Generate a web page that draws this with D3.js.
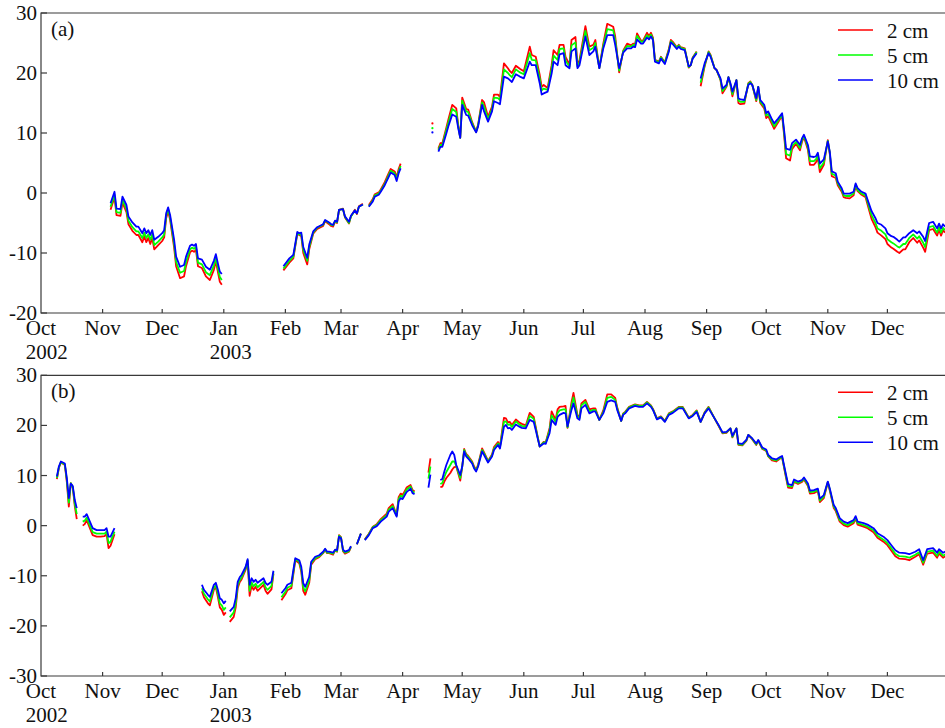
<!DOCTYPE html>
<html>
<head>
<meta charset="utf-8">
<script src="https://cdn.jsdelivr.net/npm/d3@7"></script>
<style>
  body { margin: 0; background: #fff; }
  svg { display: block; }
  .frame { fill: none; stroke: #3a3a3a; stroke-width: 1.2; }
  .tick { stroke: #3a3a3a; stroke-width: 1.2; }
  .series { fill: none; stroke-width: 1.8; stroke-linejoin: round; }
</style>
</head>
<body>
<svg class="chart" width="945" height="728"></svg>
<script>
// days counted from 1 Oct 2002; a null value marks a break in the record

// (a) station one
const dayA = [
  35,37,38,40,41,43,44,46,48,49,51,52,53,54,55,56,57,59,61,62,63,64,65,67,68,70,72,73,75,76,77,78,79,81,83,85,87,88,89,90,91,
  100,
  122,125,127,129,130,131,132,134,135,137,139,142,143,145,146,147,148,149,150,152,153,155,156,158,159,160,162,
  163,
  165,167,168,170,171,173,175,176,178,179,180,181,
  189,
  197,
  198,
  200,201,202,204,205,207,209,210,211,212,214,215,217,219,220,222,223,225,227,228,230,231,233,235,236,237,239,241,243,246,
  247,249,251,252,253,255,257,258,260,261,263,264,266,267,269,270,271,274,276,278,279,281,283,285,288,289,291,293,295,297,
  298,299,300,302,303,305,306,307,308,309,311,312,314,316,317,318,320,321,322,324,326,327,328,330,
  331,
  332,334,336,337,339,340,342,343,345,346,347,348,350,351,352,354,356,357,358,360,361,362,364,365,366,368,369,371,373,374,
  375,377,378,380,382,383,384,386,387,389,390,391,392,394,396,397,398,400,401,403,404,405,407,409,410,411,413,415,416,418,
  420,421,423,425,426,428,429,431,432,434,435,437,439,441,442,444,445,447,449,451,452,453,454,455
];
const a2cm = [
  -2.8,-0.7,-3.7,-3.8,-1.6,-3.2,-5.2,-6.3,-7.0,-7.0,-8.2,-7.2,-8.2,-7.5,-8.5,-7.5,-9.4,-8.7,-8.0,-7.4,-4.2,-3.0,-4.5,-9.1,-12.2,-14.2,-13.9,-12.2,-9.9,-9.6,-9.8,-9.5,-12.2,-12.5,-13.9,-14.5,-12.8,-11.4,-13.1,-14.8,-15.3,
  null,
  -12.9,-11.6,-10.9,-6.8,-7.0,-7.2,-10.0,-11.9,-9.4,-6.8,-6.0,-5.5,-4.7,-5.2,-5.5,-5.6,-4.8,-5.0,-2.8,-2.6,-4.1,-5.1,-3.9,-2.8,-3.5,-2.2,-1.8,
  null,
  -2.0,-1.0,-0.2,0.1,0.6,1.8,3.3,4.0,3.6,2.6,4.0,4.9,
  null,
  11.6,
  null,
  7.4,8.3,8.3,10.9,12.2,14.7,14.1,11.3,9.2,15.9,14.0,13.9,11.8,10.2,11.4,15.5,15.1,12.7,14.4,16.4,16.4,16.0,21.6,20.8,20.3,20.0,21.2,20.7,20.3,24.4,
  23.0,22.7,19.7,17.7,18.0,17.5,21.3,23.8,23.0,24.7,24.7,22.7,21.4,25.5,26.0,21.4,22.1,27.8,24.4,24.7,25.5,20.8,24.9,28.2,27.7,26.1,20.1,23.7,24.9,24.6,
  24.9,24.8,26.6,25.4,25.4,26.7,26.1,26.7,25.9,22.2,21.9,22.7,21.8,24.0,25.5,25.2,24.3,24.7,24.3,24.1,20.9,21.3,22.6,23.6,
  null,
  17.8,21.1,23.6,23.0,20.8,20.5,18.8,16.6,17.7,19.3,18.0,16.1,18.8,15.0,14.8,14.9,18.3,18.6,18.0,15.3,17.7,15.0,14.1,12.5,12.8,11.4,10.7,11.8,12.9,9.7,
  5.8,5.4,7.3,8.2,7.1,8.5,9.3,7.2,4.7,4.7,5.1,5.8,3.5,4.7,8.8,6.5,2.8,2.5,1.3,0.2,-0.7,-0.8,-0.9,-0.4,1.2,0.3,-0.3,-0.7,-1.9,-4.3,
  -5.7,-6.6,-7.1,-7.7,-8.5,-9.1,-9.3,-9.8,-10.0,-9.4,-9.4,-8.2,-7.5,-8.3,-7.9,-9.1,-9.8,-6.2,-6.0,-7.1,-6.1,-7.1,-6.2,-6.6
];
const a5cm = [
  -2.3,-0.3,-3.2,-3.3,-1.1,-2.7,-4.6,-5.7,-6.4,-6.4,-7.5,-6.6,-7.5,-6.9,-7.8,-6.9,-8.7,-8.1,-7.4,-6.9,-3.8,-2.7,-4.1,-8.5,-11.5,-13.3,-13.0,-11.5,-9.4,-9.1,-9.3,-9.0,-11.6,-11.9,-13.2,-13.7,-12.1,-10.9,-12.5,-14.0,-14.5,
  null,
  -12.6,-11.3,-10.6,-6.7,-6.9,-6.9,-9.5,-11.3,-9.0,-6.6,-5.8,-5.3,-4.6,-5.0,-5.3,-5.4,-4.7,-4.9,-2.8,-2.7,-4.0,-5.0,-3.9,-2.9,-3.4,-2.3,-1.9,
  null,
  -2.2,-1.2,-0.4,-0.1,0.4,1.5,3.0,3.7,3.3,2.3,3.6,4.5,
  null,
  10.8,
  null,
  7.2,8.0,8.0,10.5,11.7,14.0,13.5,11.1,9.2,15.4,13.6,13.5,11.6,10.2,11.3,15.1,14.4,12.3,14.0,15.9,15.8,15.5,20.6,20.0,19.6,19.3,20.6,20.1,19.8,23.3,
  22.2,22.1,19.1,17.1,17.4,17.2,20.7,22.9,22.2,24.0,24.1,22.1,21.1,24.6,25.1,21.1,21.7,27.0,23.8,24.2,25.0,20.8,24.5,27.3,27.1,25.5,20.4,23.6,24.5,24.4,
  24.7,24.6,26.2,25.2,25.2,26.3,25.9,26.4,25.7,22.1,21.8,22.6,21.7,23.8,25.3,25.0,24.2,24.6,24.2,24.0,21.0,21.3,22.5,23.5,
  null,
  18.4,21.3,23.5,22.9,20.8,20.5,18.9,17.0,17.8,19.3,18.1,16.5,18.8,15.4,15.2,15.2,18.2,18.5,18.0,15.5,17.7,15.2,14.4,12.9,13.2,11.8,11.1,12.1,13.1,10.1,
  6.5,6.2,7.8,8.5,7.5,8.8,9.5,7.6,5.3,5.3,5.6,6.2,4.1,5.1,8.7,6.7,3.2,2.9,1.6,0.5,-0.4,-0.5,-0.5,-0.1,1.4,0.5,-0.1,-0.4,-1.5,-3.7,
  -5.0,-5.9,-6.3,-6.9,-7.7,-8.2,-8.4,-8.9,-9.1,-8.5,-8.5,-7.5,-6.9,-7.6,-7.2,-8.3,-9.0,-5.7,-5.5,-6.6,-5.7,-6.6,-5.8,-6.2
];
const a10cm = [
  -1.7,0.2,-2.6,-2.7,-0.6,-2.0,-3.9,-4.9,-5.6,-5.6,-6.7,-5.9,-6.7,-6.2,-7.0,-6.2,-7.8,-7.3,-6.7,-6.2,-3.4,-2.4,-3.7,-7.8,-10.6,-12.3,-12.0,-10.6,-8.8,-8.6,-8.8,-8.5,-10.9,-11.1,-12.3,-12.8,-11.3,-10.2,-11.7,-13.1,-13.5,
  null,
  -12.2,-10.9,-10.3,-6.5,-6.7,-6.6,-9.0,-10.8,-8.6,-6.4,-5.7,-5.2,-4.5,-4.9,-5.2,-5.3,-4.6,-4.8,-2.8,-2.7,-3.9,-4.8,-3.8,-2.9,-3.4,-2.3,-1.9,
  null,
  -2.3,-1.4,-0.6,-0.3,0.2,1.3,2.7,3.4,3.0,2.0,3.3,4.1,
  null,
  10.1,
  null,
  6.9,7.7,7.7,9.9,11.1,13.1,12.7,10.8,9.2,14.7,13.0,12.9,11.3,10.1,11.1,14.7,13.6,11.9,13.6,15.3,15.0,14.8,19.4,19.1,18.8,18.5,19.8,19.4,19.1,21.9,
  21.3,21.3,18.3,16.4,16.6,16.9,19.9,21.9,21.3,23.1,23.3,21.3,20.8,23.6,24.1,20.8,21.3,26.1,23.0,23.6,24.4,20.8,24.1,26.3,26.3,24.7,20.8,23.4,24.1,24.1,
  24.4,24.3,25.6,24.9,24.9,25.9,25.6,26.1,25.5,21.9,21.6,22.4,21.5,23.6,25.1,24.8,24.0,24.4,24.0,23.8,21.1,21.3,22.4,23.3,
  null,
  19.1,21.6,23.3,22.7,20.8,20.5,19.1,17.4,18.0,19.3,18.3,16.9,18.8,15.8,15.6,15.5,18.0,18.3,18.0,15.8,17.7,15.5,14.7,13.3,13.6,12.2,11.6,12.4,13.3,10.5,
  7.4,7.2,8.3,8.9,8.0,9.1,9.7,8.0,6.1,6.0,6.1,6.7,4.9,5.6,8.6,6.9,3.6,3.3,1.9,0.8,-0.1,-0.1,-0.1,0.2,1.6,0.8,0.2,-0.1,-1.1,-3.0,
  -4.2,-5.0,-5.3,-5.9,-6.7,-7.2,-7.3,-7.8,-8.1,-7.4,-7.4,-6.7,-6.2,-6.7,-6.4,-7.3,-8.0,-5.0,-4.8,-5.9,-5.1,-5.9,-5.2,-5.6
];

// (b) station two
const dayB = [
  8,9,10,12,13,14,15,16,17,18,
  19,
  21,22,23,26,28,30,32,33,34,35,37,
  40,
  81,82,84,85,87,88,89,90,91,92,93,
  94,
  95,97,98,99,100,101,103,104,105,106,107,108,109,111,112,113,114,116,117,
  119,
  121,123,124,126,127,128,130,131,132,133,135,136,138,140,142,143,144,145,147,148,149,150,151,152,153,155,156,
  157,
  159,161,
  162,
  163,165,167,169,171,174,175,177,179,180,181,182,184,186,187,188,
  190,
  195,196,
  198,
  201,202,203,204,206,207,208,209,211,212,213,214,215,217,218,219,220,222,223,225,227,228,230,231,233,234,235,236,237,239,
  241,242,244,246,248,249,250,251,253,254,256,257,259,260,261,263,264,265,267,268,270,271,272,274,276,278,279,281,283,285,
  287,289,290,292,293,294,296,299,301,303,305,307,308,310,312,314,316,318,321,323,326,328,330,332,334,336,339,341,343,345,
  347,348,350,351,353,355,356,358,360,361,363,365,366,368,370,372,373,375,376,378,379,381,383,384,386,387,389,391,392,394,
  396,397,399,400,402,404,406,409,410,411,414,416,419,421,424,426,428,430,432,435,437,440,442,444,446,449,451,452,454,456
];
const b2cm = [
  9.3,11.5,12.6,12.1,8.7,3.8,8.5,7.6,3.9,1.3,
  null,
  0.0,0.3,1.1,-1.9,-2.2,-2.2,-2.1,-1.7,-4.5,-4.0,-1.7,
  null,
  -13.1,-14.3,-15.5,-15.9,-12.8,-12.3,-14.2,-16.3,-16.8,-17.8,-17.3,
  null,
  -19.2,-18.2,-16.3,-12.5,-11.3,-10.7,-8.8,-7.0,-14.0,-12.0,-12.8,-12.2,-13.0,-12.2,-11.8,-13.0,-13.6,-12.7,-9.6,
  null,
  -14.9,-13.7,-12.9,-12.5,-9.7,-6.9,-7.5,-9.2,-13.0,-13.8,-11.4,-7.8,-6.7,-6.3,-5.5,-4.8,-5.5,-5.5,-5.8,-5.0,-5.2,-1.9,-2.3,-5.1,-5.6,-5.2,-4.3,
  null,
  -3.7,-1.6,
  null,
  -2.7,-1.6,-0.2,0.3,1.3,2.4,3.5,4.3,2.1,5.7,6.4,6.1,7.6,8.1,7.1,6.8,
  null,
  10.6,13.4,
  null,
  7.7,7.8,8.8,9.5,10.5,11.2,11.7,11.8,9.0,11.8,15.3,14.3,13.9,12.8,11.8,11.1,12.2,15.4,14.6,12.9,14.2,15.7,16.7,15.8,21.5,21.4,20.6,20.7,20.1,21.2,
  20.5,20.3,20.0,22.5,21.7,19.7,17.7,15.8,16.7,16.6,19.5,22.8,21.1,23.2,23.7,23.8,23.9,19.5,24.6,26.5,22.1,21.6,24.4,25.1,23.2,23.4,23.4,21.1,23.0,26.2,
  26.2,25.5,23.6,20.9,22.4,22.7,23.7,24.2,24.0,24.0,24.7,24.0,23.3,21.4,21.8,20.9,22.4,22.8,23.7,23.7,21.6,22.1,23.0,20.7,22.6,23.7,21.4,19.9,18.4,18.5,
  19.4,17.6,19.4,16.1,16.0,16.9,18.1,17.2,16.1,16.9,15.3,14.9,13.8,13.0,12.8,13.4,13.6,9.5,7.6,7.5,8.7,8.3,8.7,9.2,7.9,6.4,6.5,6.9,4.7,5.5,
  8.6,7.0,3.5,2.9,0.8,0.1,-0.2,0.5,1.4,0.2,-0.2,-0.5,-1.3,-2.4,-3.2,-3.9,-5.0,-6.1,-6.6,-6.7,-6.9,-6.2,-5.7,-7.8,-5.6,-5.4,-6.4,-5.6,-6.4,-5.9
];
const b5cm = [
  9.5,11.6,12.7,12.2,9.1,4.6,8.5,7.7,4.4,2.3,
  null,
  0.8,1.0,1.6,-1.3,-1.6,-1.6,-1.6,-1.2,-3.5,-3.2,-1.2,
  null,
  -12.5,-13.6,-14.7,-15.1,-12.4,-11.9,-13.6,-15.5,-15.9,-16.8,-16.3,
  null,
  -18.3,-17.3,-15.5,-11.9,-10.9,-10.3,-8.5,-6.9,-13.0,-11.3,-12.1,-11.6,-12.3,-11.6,-11.2,-12.3,-12.8,-12.0,-9.3,
  null,
  -14.3,-13.2,-12.4,-12.0,-9.3,-6.7,-7.2,-8.8,-12.3,-13.1,-10.9,-7.5,-6.5,-6.1,-5.4,-4.7,-5.4,-5.4,-5.6,-4.9,-5.1,-2.0,-2.4,-5.0,-5.4,-5.1,-4.2,
  null,
  -3.7,-1.6,
  null,
  -2.8,-1.7,-0.3,0.1,1.1,2.1,3.2,3.9,2.0,5.3,6.0,5.7,7.2,7.8,6.8,6.6,
  null,
  9.4,11.8,
  null,
  8.3,8.5,9.7,10.7,12.1,12.8,12.8,11.9,9.5,11.8,15.1,14.1,13.7,12.6,11.6,11.0,12.0,15.1,14.4,12.8,14.0,15.4,16.4,15.6,20.7,20.8,20.1,20.2,19.7,20.8,
  20.1,19.9,19.7,21.9,21.3,19.4,17.6,15.8,16.6,16.5,19.1,22.0,20.7,22.5,23.0,23.2,23.2,19.6,23.9,25.6,21.8,21.4,24.0,24.7,22.8,23.1,23.1,21.1,22.7,25.5,
  25.7,25.1,23.4,20.9,22.3,22.6,23.6,24.1,23.9,23.9,24.6,23.9,23.2,21.3,21.7,20.8,22.3,22.7,23.6,23.6,21.5,22.0,22.9,20.7,22.5,23.6,21.4,20.0,18.5,18.6,
  19.4,17.7,19.4,16.2,16.1,17.0,18.1,17.3,16.2,17.0,15.4,15.0,13.9,13.2,13.0,13.5,13.7,9.8,7.9,7.8,8.9,8.5,8.9,9.4,8.1,6.7,6.8,7.1,5.0,5.8,
  8.7,7.2,3.8,3.2,1.1,0.4,0.1,0.8,1.6,0.5,0.1,-0.2,-0.9,-2.0,-2.8,-3.5,-4.5,-5.6,-6.1,-6.2,-6.4,-5.8,-5.3,-7.4,-5.2,-5.0,-6.0,-5.2,-6.0,-5.5
];
const b10cm = [
  9.8,11.8,12.8,12.4,9.5,5.5,8.4,7.9,5.1,3.5,
  null,
  1.8,1.8,2.3,-0.5,-0.9,-0.9,-0.9,-0.5,-2.2,-2.2,-0.5,
  null,
  -11.8,-12.8,-13.8,-14.2,-11.8,-11.4,-12.8,-14.5,-14.8,-15.5,-15.0,
  null,
  -17.1,-16.2,-14.5,-11.2,-10.3,-9.8,-8.2,-6.7,-11.8,-10.5,-11.2,-10.8,-11.4,-10.8,-10.5,-11.4,-11.8,-11.2,-9.0,
  null,
  -13.5,-12.5,-11.8,-11.4,-8.9,-6.5,-6.9,-8.2,-11.5,-12.2,-10.2,-7.2,-6.2,-5.9,-5.2,-4.6,-5.2,-5.2,-5.4,-4.8,-4.9,-2.2,-2.5,-4.8,-5.2,-4.9,-4.1,
  null,
  -3.7,-1.6,
  null,
  -2.9,-1.9,-0.5,-0.1,0.8,1.8,2.8,3.5,1.8,4.8,5.5,5.3,6.7,7.4,6.5,6.3,
  null,
  7.6,10.2,
  null,
  9.1,9.3,10.8,12.1,14.1,14.8,14.1,12.1,10.1,11.8,14.8,13.8,13.4,12.4,11.4,10.8,11.8,14.8,14.1,12.6,13.8,15.1,16.1,15.4,19.7,20.1,19.4,19.5,19.1,20.2,
  19.7,19.5,19.4,21.1,20.7,19.1,17.4,15.8,16.4,16.3,18.5,21.1,20.1,21.7,22.1,22.5,22.4,19.8,23.1,24.4,21.4,21.1,23.4,24.1,22.4,22.8,22.8,21.1,22.4,24.7,
  25.0,24.7,23.1,20.9,22.1,22.4,23.4,23.9,23.7,23.7,24.4,23.7,23.1,21.2,21.6,20.7,22.1,22.5,23.4,23.4,21.4,21.9,22.7,20.7,22.4,23.4,21.4,20.1,18.6,18.7,
  19.4,17.9,19.4,16.4,16.3,17.1,18.1,17.4,16.4,17.1,15.6,15.2,14.1,13.4,13.2,13.7,13.9,10.1,8.3,8.1,9.2,8.8,9.1,9.6,8.4,7.0,7.1,7.4,5.4,6.1,
  8.8,7.4,4.1,3.5,1.5,0.8,0.5,1.1,1.9,0.8,0.5,0.2,-0.5,-1.5,-2.2,-2.9,-3.9,-4.9,-5.4,-5.5,-5.7,-5.2,-4.7,-6.9,-4.7,-4.5,-5.4,-4.7,-5.4,-5.0
];

const monthNames = ['Oct', 'Nov', 'Dec', 'Jan', 'Feb', 'Mar', 'Apr', 'May', 'Jun', 'Jul', 'Aug', 'Sep', 'Oct', 'Nov', 'Dec'];
const yearNames = ['2002', '2003'];   // written under Oct 2002 and Jan 2003
const ticksA = [30, 20, 10, 0, -10, -20];
const ticksB = [30, 20, 10, 0, -10, -20, -30];
const depths = ['2 cm', '5 cm', '10 cm'];
const colors = ['#ff0000', '#00ff00', '#0000ff'];

const left = 41;
const start = new Date(2002, 9, 1);
const end = new Date(2004, 0, 1);

const x = d3.scaleTime()
    .domain([start, end])
    .range([left, 949]);

const svg = d3.select('.chart');

const toDate = (day) => {
  return d3.timeDay.offset(start, day);
}; // toDate

// every text in the figure is the same serif face and size
const label = (sel) => {
  return sel
      .style('font-family', "'Liberation Serif'")
      .style('font-size', '21px')
      .style('fill', '#111');
}; // label

const drawPanel = (opts) => {
  const y = d3.scaleLinear()
      .domain(d3.extent(opts.ticks))
      .range([opts.bottom, opts.top]);

  const g = svg.append('g');

  // frame: top, left and bottom edge (right edge is cut off)
  g.append('path')
      .attr('class', 'frame')
      .attr('d', `M${ x.range()[1] },${ opts.top }H${ left }V${ opts.bottom }H${ x.range()[1] }`);

  // y ticks point inward
  g.selectAll('.ytick')
      .data(opts.ticks)
    .enter().append('line')
      .attr('class', 'tick')
      .attr('x1', left)
      .attr('x2', left + 6)
      .attr('y1', (d) => y(d))
      .attr('y2', (d) => y(d));

  g.selectAll('.ylabel')
      .data(opts.ticks)
    .enter().append('text')
      .attr('x', left - 4)
      .attr('y', (d) => y(d) + 7)
      .attr('text-anchor', 'end')
      .text((d) => d)
      .call(label);

  // month ticks along the bottom, also pointing inward
  const months = d3.timeMonth.range(start, end);

  g.selectAll('.xtick')
      .data(months.slice(1))
    .enter().append('line')
      .attr('class', 'tick')
      .attr('x1', (d) => x(d))
      .attr('x2', (d) => x(d))
      .attr('y1', opts.bottom)
      .attr('y2', opts.bottom - 4);

  const monthText = g.selectAll('.xlabel')
      .data(months)
    .enter().append('text')
      .attr('x', (d) => x(d))
      .attr('y', opts.bottom + 22)
      .attr('text-anchor', 'middle')
      .text((d, i) => monthNames[i])
      .call(label);

  // years line up with the left edge of their month label
  const yearAt = [0, 3];
  yearAt.forEach((m, i) => {
    const box = monthText.nodes()[m].getBBox();
    g.append('text')
        .attr('x', box.x)
        .attr('y', opts.bottom + 45.5)
        .text(yearNames[i])
        .call(label);
  });

  // one line per depth, 10 cm drawn last so it sits on top
  opts.series.forEach((values, k) => {
    const rows = opts.days.map((day, i) => {
      return {date: toDate(day), v: values[i]};
    });

    const line = d3.line()
        .defined((d) => d.v != null)
        .x((d) => x(d.date))
        .y((d) => y(d.v));

    g.append('path')
        .attr('class', 'series')
        .attr('stroke', colors[k])
        .attr('d', line(rows));

    // single-day records show up as dots
    const lone = rows.filter((d, i) => {
      return d.v != null &&
        (i === 0 || rows[i - 1].v == null) &&
        (i === rows.length - 1 || rows[i + 1].v == null);
    });

    g.selectAll(null)
        .data(lone)
      .enter().append('circle')
        .attr('cx', (d) => x(d.date))
        .attr('cy', (d) => y(d.v))
        .attr('r', 1.1)
        .attr('fill', colors[k]);
  });

  g.append('text')
      .attr('x', 51)
      .attr('y', opts.top + 23)
      .text(opts.name)
      .call(label);

  // legend
  const legend = g.selectAll('.legend')
      .data(depths)
    .enter().append('g')
      .attr('transform', (d, i) => `translate(838,${ opts.top + 17 + i * 25 })`);

  legend.append('line')
      .attr('x2', 35)
      .attr('stroke', (d, i) => colors[i])
      .attr('stroke-width', 1.6);

  legend.append('text')
      .attr('x', 49)
      .attr('y', 7.5)
      .text((d) => d)
      .call(label);
}; // drawPanel

drawPanel({
  name: '(a)',
  top: 13,
  bottom: 313,
  ticks: ticksA,
  days: dayA,
  series: [a2cm, a5cm, a10cm]
});

drawPanel({
  name: '(b)',
  top: 375.3,
  bottom: 676,
  ticks: ticksB,
  days: dayB,
  series: [b2cm, b5cm, b10cm]
});
</script>
</body>
</html>
